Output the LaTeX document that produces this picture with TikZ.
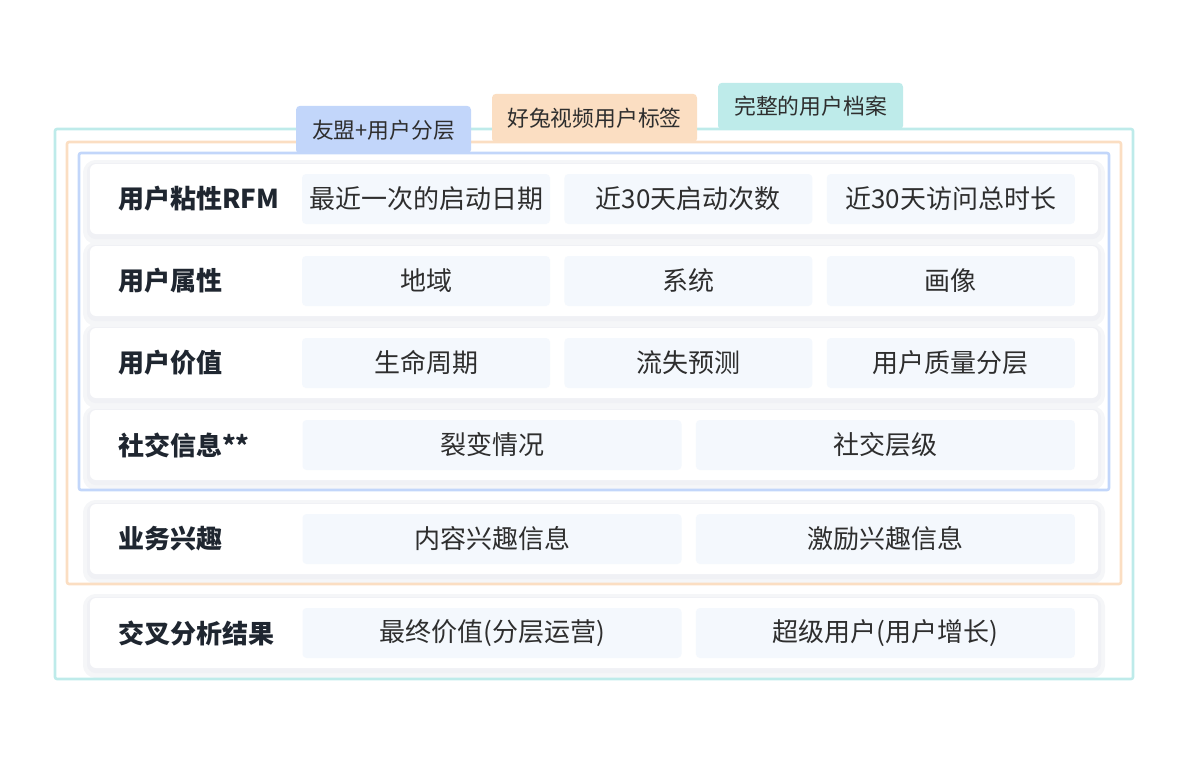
\documentclass[tikz,border=0pt]{standalone}
\usepackage{fontspec}
\setmainfont{Noto Sans CJK SC}
\usepackage{xcolor}
\usepackage{tikz}
\usetikzlibrary{positioning}
\definecolor{tealLine}{HTML}{BEEBEA}
\definecolor{orangeLine}{HTML}{FBDEC2}
\definecolor{blueLine}{HTML}{C2D6FA}
\definecolor{cellBg}{HTML}{F4F8FD}
\definecolor{shadeGray}{HTML}{EDEFF3}
\definecolor{lblText}{HTML}{1F2630}
\definecolor{cellText}{HTML}{2E2E2E}

\begin{document}
\begin{tikzpicture}[
  x=1pt, y=-1pt,
  card/.style={fill=white, rounded corners=6pt, minimum width=1008pt, minimum height=70pt, inner sep=0pt,
    preaction={draw=shadeGray!55, line width=14pt, transform canvas={yshift=-3pt}},
    preaction={draw=shadeGray!85, line width=6pt, transform canvas={yshift=-2pt}}},
  lbl/.style={anchor=west, inner sep=0pt, text=lblText, font=\fontsize{26}{30}\selectfont\bfseries},
  cell/.style={fill=cellBg, rounded corners=4pt, minimum height=50pt, inner sep=0pt, text=cellText, font=\fontsize{26}{30}\selectfont},
  c3/.style={cell, minimum width=248pt},
  c2/.style={cell, minimum width=379pt},
  tab/.style={anchor=south, rounded corners=4pt, inner sep=0pt, text=cellText, font=\fontsize{21.8}{25}\selectfont},
  frame/.style={line width=2.6pt, rounded corners=2pt}
]
\useasboundingbox (0,0) rectangle (1200,760);

% rows
\node[card] (r1) at (594,199) {};
\node[card] (r2) at (594,281) {};
\node[card] (r3) at (594,363) {};
\node[card] (r4) at (594,445) {};
\node[card] (r5) at (594,539) {};
\node[card] (r6) at (594,633) {};

\node[lbl] (r1l) at (118,199) {用户粘性RFM};
\node[c3] (r1a) at (426,199) {最近一次的启动日期};
\node[c3, right=14pt of r1a] (r1b) {近30天启动次数};
\node[c3, right=14pt of r1b] (r1c) {近30天访问总时长};

\node[lbl] (r2l) at (118,281) {用户属性};
\node[c3] (r2a) at (426,281) {地域};
\node[c3, right=14pt of r2a] (r2b) {系统};
\node[c3, right=14pt of r2b] (r2c) {画像};

\node[lbl] (r3l) at (118,363) {用户价值};
\node[c3] (r3a) at (426,363) {生命周期};
\node[c3, right=14pt of r3a] (r3b) {流失预测};
\node[c3, right=14pt of r3b] (r3c) {用户质量分层};

\node[lbl] (r4l) at (118,445) {社交信息**};
\node[c2] (r4a) at (492,445) {裂变情况};
\node[c2, right=14pt of r4a] (r4b) {社交层级};

\node[lbl] (r5l) at (118,539) {业务兴趣};
\node[c2] (r5a) at (492,539) {内容兴趣信息};
\node[c2, right=14pt of r5a] (r5b) {激励兴趣信息};

\node[lbl] (r6l) at (118,633) {交叉分析结果};
\node[c2] (r6a) at (492,633) {最终价值(分层运营)};
\node[c2, right=14pt of r6a] (r6b) {超级用户(用户增长)};

% frames
\draw[frame, draw=tealLine] (55,129) rectangle (1133,679);
\draw[frame, draw=orangeLine] (67,142) rectangle (1121,584);
\draw[frame, draw=blueLine] (79,153) rectangle (1109,490);

% tabs
\node[tab, fill=blueLine, minimum width=175pt, minimum height=48pt] (t1) at (383.5,154) {友盟+用户分层};
\node[tab, fill=orangeLine, minimum width=205pt, minimum height=49pt] (t2) at (594.5,143) {好兔视频用户标签};
\node[tab, fill=tealLine, minimum width=185pt, minimum height=47pt] (t3) at (810.5,130) {完整的用户档案};
\end{tikzpicture}
\end{document}
